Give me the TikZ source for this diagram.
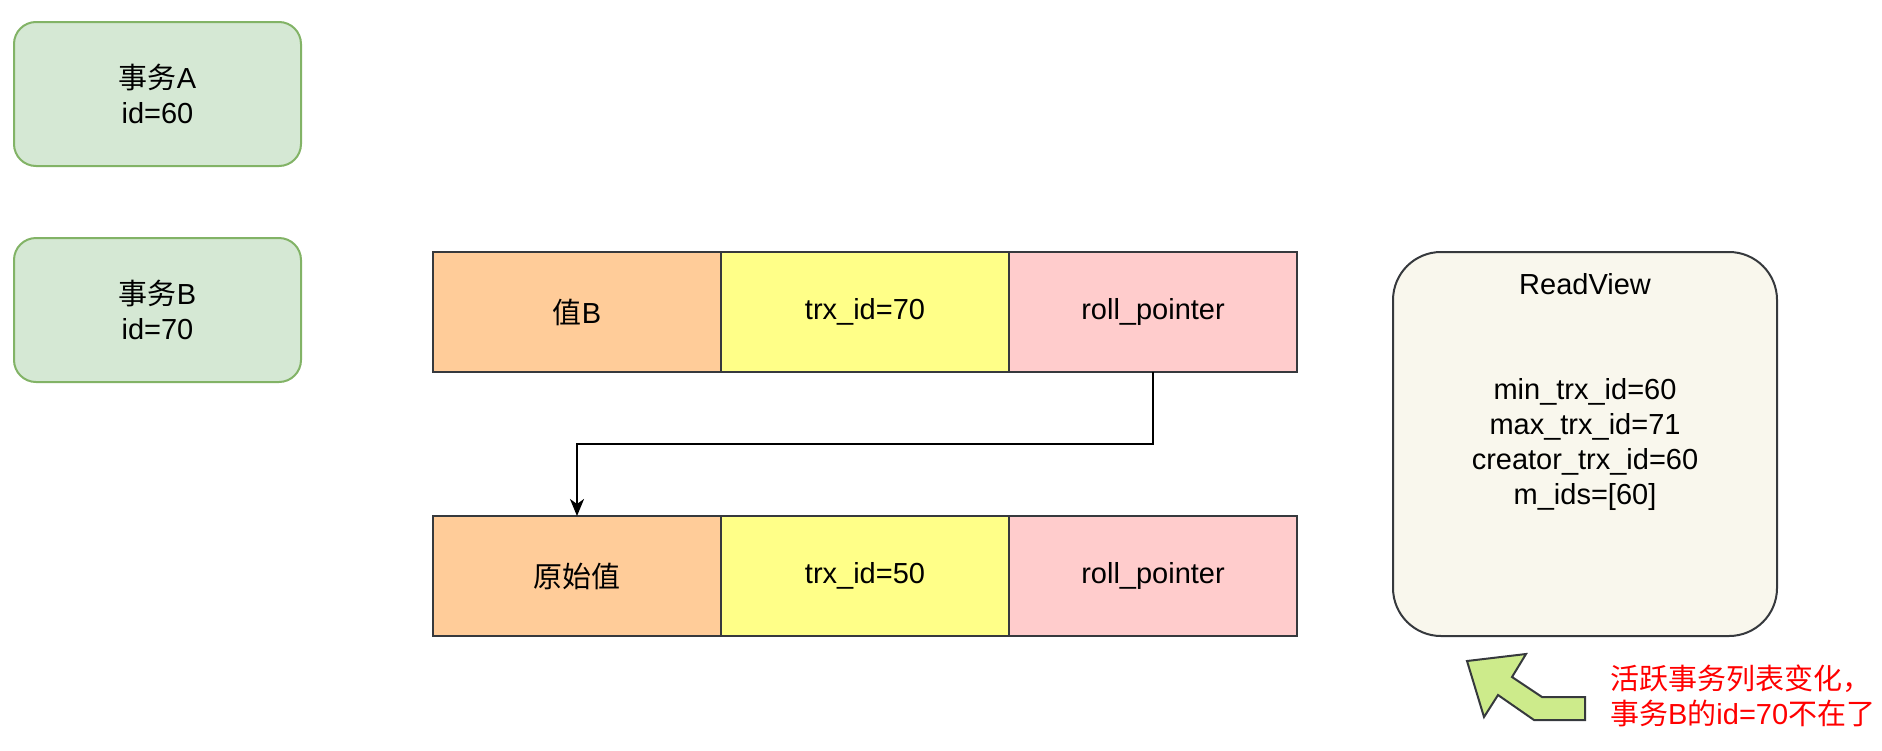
\documentclass[tikz,border=0pt]{standalone}
\usepackage{fontspec}
\setmainfont{Liberation Sans}
\newfontfamily\cjk{Noto Sans CJK SC}
\usepackage{tikz}
\usetikzlibrary{arrows.meta, positioning}
\usepackage{xcolor}

\definecolor{txgreen}{HTML}{D5E8D4}
\definecolor{txgreenline}{HTML}{82B366}
\definecolor{valorange}{HTML}{FFCC99}
\definecolor{trxyellow}{HTML}{FFFF88}
\definecolor{ptrpink}{HTML}{FFCCCC}
\definecolor{cellline}{HTML}{36393D}
\definecolor{viewbg}{HTML}{F9F7ED}
\definecolor{hintgreen}{HTML}{CDEB8B}

\begin{document}
\begin{tikzpicture}[
    x=0.5pt, y=-0.5pt,
    every node/.style={font=\fontsize{14.5}{17.5}\selectfont},
    txbox/.style={
        rectangle,
        rounded corners=11pt,
        draw=txgreenline,
        line width=1pt,
        align=center,
        minimum width=143.5pt,
        minimum height=72pt,
        fill=txgreen
    },
    cell/.style={
        rectangle,
        draw=cellline,
        line width=1pt,
        outer sep=0pt,
        align=center,
        minimum width=144pt,
        minimum height=60pt
    },
    viewbox/.style={
        rectangle,
        rounded corners=24pt,
        draw=cellline,
        line width=1pt,
        minimum width=192pt,
        minimum height=192pt,
        fill=viewbg
    },
    arrow/.style={
        -{Stealth[length=8.5pt, width=7pt, inset=2.5pt]},
        line width=1pt
    }
]
\useasboundingbox (0,0) rectangle (1882,750);

\node[txbox] (txA) at (157.5,94) {{\cjk 事务}A\\id=60};
\node[txbox] (txB) at (157.5,310) {{\cjk 事务}B\\id=70};

% current version
\node[cell, fill=valorange] (valB) at (577,312) {{\cjk 值}B};
\node[cell, fill=trxyellow, right=0pt of valB] (trx70) {trx\_id=70};
\node[cell, fill=ptrpink, right=0pt of trx70] (ptrB) {roll\_pointer};

% undo log version
\node[cell, fill=valorange] (orig) at (577,576) {{\cjk 原始值}};
\node[cell, fill=trxyellow, right=0pt of orig] (trx50) {trx\_id=50};
\node[cell, fill=ptrpink, right=0pt of trx50] (ptrO) {roll\_pointer};

\draw[arrow] (ptrB.south) -- ++(0,-36pt) -| (orig.north);

\node[viewbox] (view) at (1585,444) {};
\node[align=center] (viewtext) at (1585,392) {ReadView\\[35pt]min\_trx\_id=60\\max\_trx\_id=71\\creator\_trx\_id=60\\m\_ids=[60]};

\draw[draw=cellline, line width=1pt, fill=hintgreen, line join=miter]
    (1467,661) -- (1526,654) -- (1512,677) -- (1542,697) -- (1585,697)
    -- (1585,720) -- (1534,720) -- (1498,695) -- (1484,717) -- cycle;

\node[anchor=west, align=left, text=red] (note) at (1603,696) {{\cjk 活跃事务列表变化，}\\{\cjk 事务}B{\cjk 的}id=70{\cjk 不在了}};

\end{tikzpicture}
\end{document}
